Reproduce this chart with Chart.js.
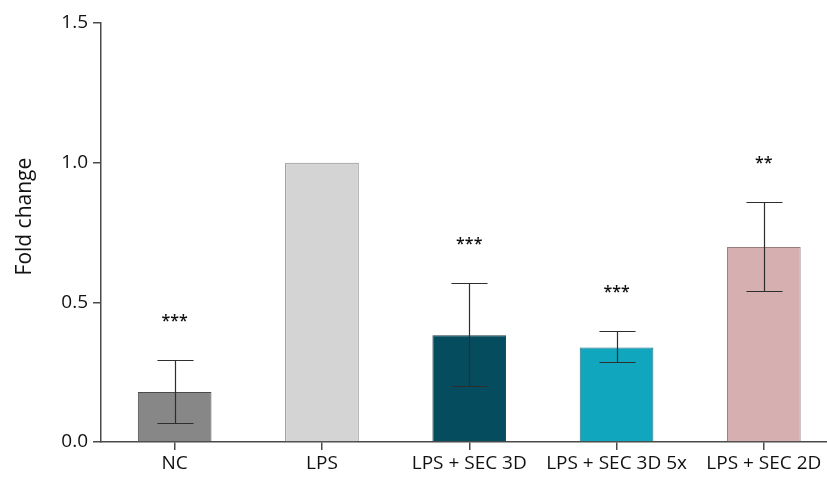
<!DOCTYPE html>
<html>
<head>
<meta charset="utf-8">
<script src="https://cdn.jsdelivr.net/npm/chart.js@4.4.1/dist/chart.umd.min.js"></script>
<style>
  html, body { margin: 0; padding: 0; background: #fff; overflow: hidden; }
  #wrap { width: 827px; height: 484px; overflow: hidden; }
  canvas { display: block; }
</style>
</head>
<body>
<div id="wrap"><canvas id="chart" width="840" height="484"></canvas></div>
<script>
// Fold change per treatment group, mean with lower/upper error limits
const categories = ['NC', 'LPS', 'LPS + SEC 3D', 'LPS + SEC 3D 5x', 'LPS + SEC 2D'];
const foldChange = [0.179, 1.0, 0.382, 0.338, 0.698];
const errLow = [0.068, null, 0.199, 0.285, 0.539];
const errHigh = [0.293, null, 0.570, 0.397, 0.858];
const significance = ['***', '', '***', '***', '**'];
const yTicks = [0, 0.5, 1.0, 1.5];
const yTitle = 'Fold change';

const fillColors = ['#878787', '#d4d4d4', '#064c5f', '#10a6bd', '#d6b0b0'];
const edgeColors = ['#4a4a4a', '#8a8a8a', '#1f3a42', '#2a6f7c', '#9a7c7c'];

const FONT = "'Open Sans', 'DejaVu Sans', sans-serif";
const AXIS = '#4a4a4a';

// Draws error whiskers with caps and the significance marks above them
const errorBarPlugin = {
  id: 'errorBars',
  afterDatasetsDraw(chart) {
    const ctx = chart.ctx;
    const meta = chart.getDatasetMeta(0);
    const y = chart.scales.y;
    ctx.save();
    meta.data.forEach((bar, i) => {
      const cx = Math.round(bar.x) + 0.5;
      let topPx = bar.y;
      if (errLow[i] != null && errHigh[i] != null) {
        const yl = Math.round(y.getPixelForValue(errLow[i])) + 0.5;
        const yh = Math.round(y.getPixelForValue(errHigh[i])) + 0.5;
        const half = bar.width * 0.245;
        ctx.strokeStyle = '#2e2e2e';
        ctx.lineWidth = 1.2;
        ctx.beginPath();
        ctx.moveTo(cx, yl); ctx.lineTo(cx, yh);
        ctx.moveTo(cx - half, yh); ctx.lineTo(cx + half, yh);
        ctx.moveTo(cx - half, yl); ctx.lineTo(cx + half, yl);
        ctx.stroke();
        topPx = yh;
      }
      if (significance[i]) {
        ctx.fillStyle = '#111111';
        ctx.font = '600 16px ' + FONT;
        ctx.textAlign = 'center';
        ctx.textBaseline = 'middle';
        ctx.fillText(significance[i], bar.x, topPx - 39);
      }
    });
    ctx.restore();
  }
};

// Rotated y-axis title, placed in the left margin
const yTitlePlugin = {
  id: 'yTitle',
  afterDraw(chart) {
    const ctx = chart.ctx;
    const area = chart.chartArea;
    ctx.save();
    ctx.translate(25, area.top + (area.bottom - area.top) * 0.462);
    ctx.rotate(-Math.PI / 2);
    ctx.fillStyle = '#111';
    ctx.font = '21px ' + FONT;
    ctx.textAlign = 'center';
    ctx.textBaseline = 'middle';
    ctx.fillText(yTitle, 0, 0);
    ctx.restore();
  }
};

new Chart(document.getElementById('chart'), {
  type: 'bar',
  data: {
    labels: categories,
    datasets: [{
      data: foldChange,
      backgroundColor: fillColors,
      borderColor: edgeColors,
      borderWidth: 1,
      categoryPercentage: 1.0,
      barPercentage: 0.5
    }]
  },
  options: {
    responsive: false,
    animation: false,
    layout: { padding: { top: 23, right: 2.5, bottom: 0, left: 0 } },
    plugins: { legend: { display: false }, tooltip: { enabled: false } },
    scales: {
      x: {
        offset: true,
        grid: { display: true, offset: false, drawOnChartArea: false, drawTicks: true, tickLength: 8, color: AXIS, tickColor: AXIS, lineWidth: 1.5 },
        border: { display: true, color: AXIS, width: 1.5 },
        ticks: { color: '#111', font: { family: FONT, size: 19 }, padding: 2, maxRotation: 0, autoSkip: false },
        afterFit(scale) { scale.height = 42; }
      },
      y: {
        min: 0,
        max: 1.5,
        afterBuildTicks(scale) { scale.ticks = yTicks.map(v => ({ value: v })); },
        grid: { display: true, drawOnChartArea: false, drawTicks: true, tickLength: 8, color: AXIS, tickColor: AXIS, lineWidth: 1.5 },
        border: { display: true, color: AXIS, width: 1.5 },
        ticks: {
          color: '#111',
          font: { family: FONT, size: 19 },
          padding: 5,
          callback: v => Number(v).toFixed(1)
        },
        title: { display: false },
        afterFit(scale) { scale.width = 101; }
      }
    }
  },
  plugins: [errorBarPlugin, yTitlePlugin]
});
</script>
</body>
</html>
